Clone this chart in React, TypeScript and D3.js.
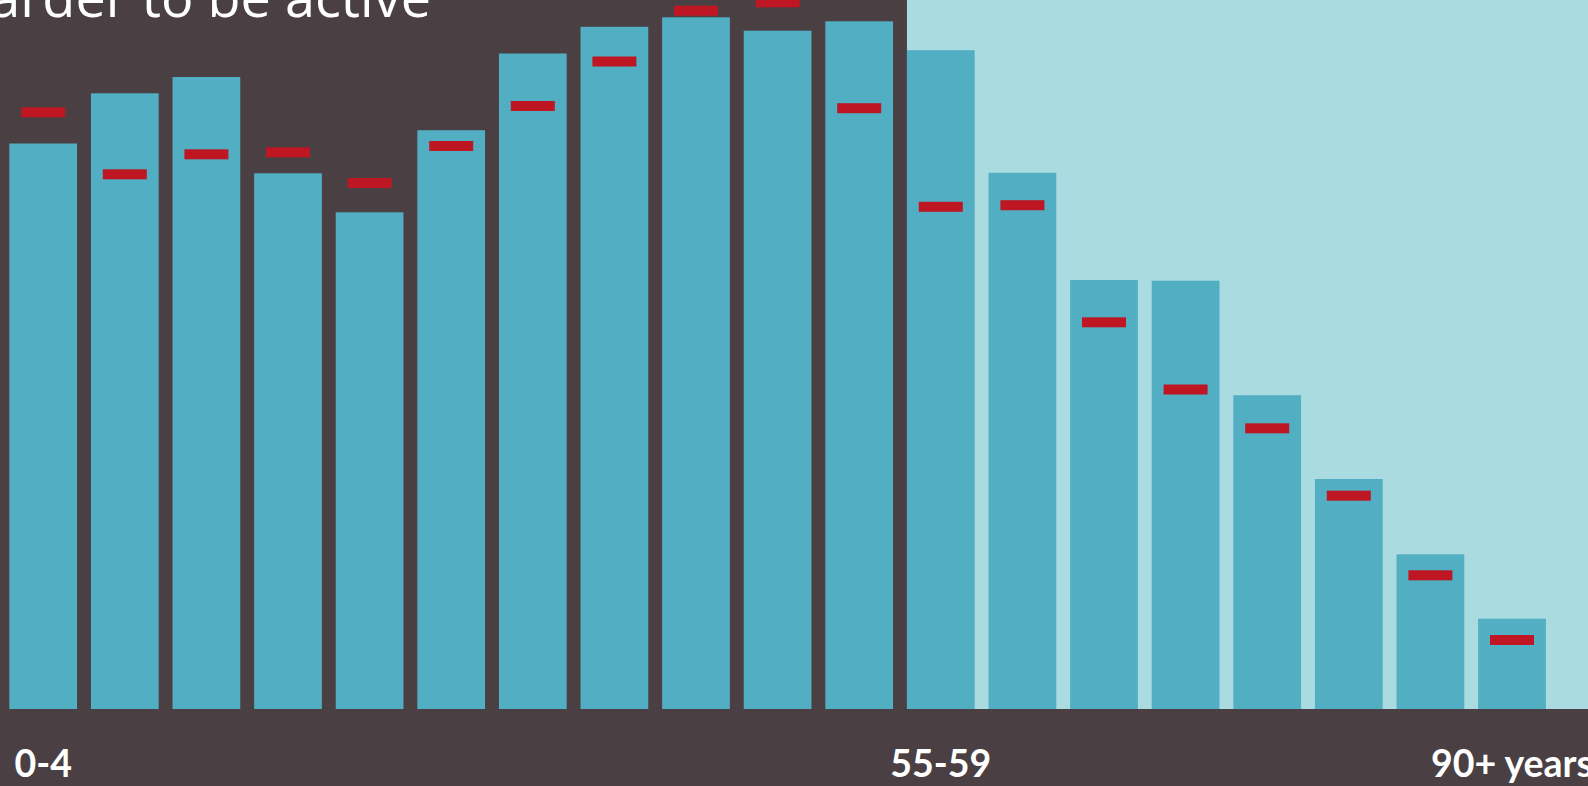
import React from "react";
import * as d3 from "d3";

const categories = [
  "0-4", "5-9", "10-14", "15-19", "20-24", "25-29", "30-34", "35-39", "40-44",
  "45-49", "50-54", "55-59", "60-64", "65-69", "70-74", "75-79", "80-84", "85-89", "90+ years",
];
// bar heights (arbitrary units)
const barValues = [
  565.5, 615.7, 632, 535.7, 496.7, 578.8, 655.5, 682.2, 691.7, 678.3,
  687.7, 658.8, 536.2, 429, 428.3, 313.8, 230, 154.7, 90.3,
];
// red marker values
const markerValues = [
  596.7, 534.7, 554.7, 556.7, 526, 563, 603, 647.5, 698.3, 706.7,
  600.8, 502.2, 503.8, 386.7, 319.5, 280.7, 213.3, 133.7, 69,
];
const shownLabels = ["0-4", "55-59", "90+ years"];
const highlightFrom = "55-59";
const titleText = "arder to be active";

const W = 1588;
const H = 786;
const baseY = 709;

export default function App() {
  const x = d3
    .scaleBand<string>()
    .domain(categories)
    .range([2.4, 2.4 + 19 * 81.6])
    .paddingInner(0.17)
    .paddingOuter(0.085);
  const y = d3.scaleLinear().domain([0, 700]).range([baseY, baseY - 700]);
  const bw = x.bandwidth();
  const lightX = x(highlightFrom) as number;
  const mw = 44;
  const mh = 10;

  return (
    <div style={{ position: "absolute", left: 0, top: 0 }}>
      <svg width={W} height={H} style={{ display: "block" }}>
        <rect x={0} y={0} width={W} height={H} fill="#4A4043" />
        <rect x={lightX} y={0} width={W - lightX} height={baseY} fill="#A9DBE0" />
        {categories.map((c, i) => (
          <rect
            key={"b" + c}
            x={x(c)}
            y={y(barValues[i])}
            width={bw}
            height={baseY - y(barValues[i])}
            fill="#52AEC2"
          />
        ))}
        {categories.map((c, i) => (
          <rect
            key={"m" + c}
            x={(x(c) as number) + bw / 2 - mw / 2}
            y={y(markerValues[i]) - mh / 2}
            width={mw}
            height={mh}
            fill="#BE1622"
          />
        ))}
        <text
          x={431}
          y={17}
          textAnchor="end"
          fill="#FFFFFF"
          fontFamily="'Open Sans', sans-serif"
          fontSize={54}
        >
          {titleText}
        </text>
        {shownLabels.map((l) => (
          <text
            key={"l" + l}
            x={(x(l) as number) + bw / 2}
            y={777}
            textAnchor="middle"
            fill="#FFFFFF"
            fontFamily="Lato, 'Open Sans', sans-serif"
            fontWeight="bold"
            fontSize={37.5}
          >
            {l}
          </text>
        ))}
      </svg>
    </div>
  );
}
